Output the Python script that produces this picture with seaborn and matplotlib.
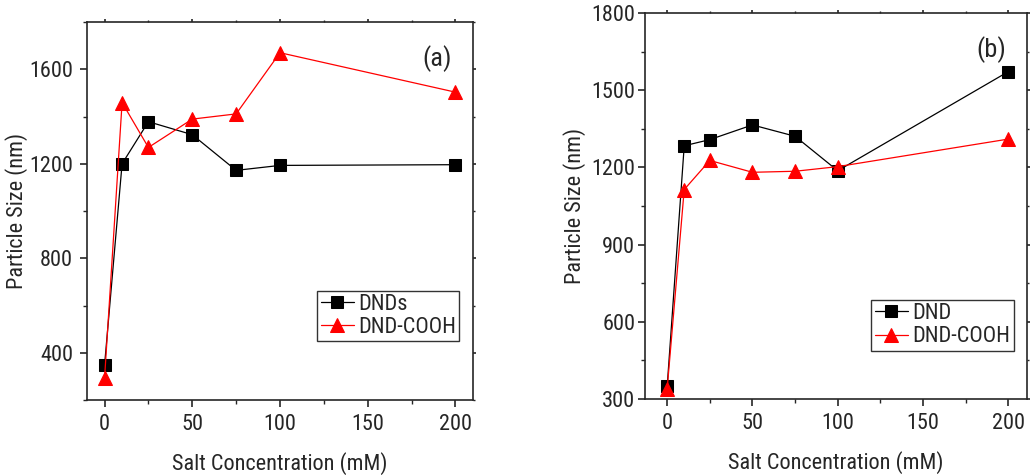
import matplotlib
matplotlib.use("Agg")
import matplotlib.pyplot as plt
import seaborn as sns
import pandas as pd
from matplotlib.ticker import MultipleLocator

# ---- data ----
conc = [0, 10, 25, 50, 75, 100, 200]
a_dnd = [347, 1200, 1378, 1323, 1172, 1193, 1196]
a_cooh = [292, 1459, 1269, 1389, 1411, 1670, 1503]
b_dnd = [349, 1284, 1308, 1365, 1321, 1187, 1572]
b_cooh = [340, 1114, 1227, 1181, 1185, 1203, 1310]
a_labels = ["DNDs", "DND-COOH"]
b_labels = ["DND", "DND-COOH"]
panel_tags = ["(a)", "(b)"]
xlabel = "Salt Concentration (mM)"
ylabel = "Particle Size (nm)"

sns.set_style("ticks")
plt.rcParams['font.family'] = ['Roboto Condensed', 'Archivo Narrow', 'Liberation Sans', 'DejaVu Sans']
plt.rcParams['axes.linewidth'] = 1.2

fig = plt.figure(figsize=(10.3, 4.75), dpi=100)
ax1 = fig.add_axes([87/1030, 75/475, 386/1030, 378/475])
ax2 = fig.add_axes([645/1030, 76/475, 382/1030, 386/475])

def draw(ax, y1, y2, labels, tag, ylim, xlim, ymajor, yminor, legend_anchor, ylab_x, ypad):
    d1 = pd.DataFrame({"x": conc, "y": y1})
    d2 = pd.DataFrame({"x": conc, "y": y2})
    sns.lineplot(data=d1, x="x", y="y", ax=ax, color="black", marker="s",
                 markersize=8, markeredgecolor="black", linewidth=0.9, label=labels[0])
    sns.lineplot(data=d2, x="x", y="y", ax=ax, color="red", marker="^",
                 markersize=10, markeredgecolor="red", linewidth=0.9, label=labels[1])
    ax.set_xlim(*xlim)
    ax.set_ylim(*ylim)
    ax.xaxis.set_major_locator(MultipleLocator(50))
    ax.xaxis.set_minor_locator(MultipleLocator(25))
    ax.yaxis.set_major_locator(MultipleLocator(ymajor))
    ax.yaxis.set_minor_locator(MultipleLocator(yminor))
    ax.tick_params(axis="both", which="major", direction="out", length=5, width=1.2,
                   labelsize=16, pad=5)
    ax.tick_params(axis="y", which="major", pad=ypad)
    ax.tick_params(axis="both", which="minor", direction="out", length=3, width=1.0)
    ax.tick_params(axis="x", which="both", top=True, labeltop=False)
    ax.tick_params(axis="y", which="both", right=True, labelright=False)
    for t in ax.xaxis.get_major_ticks() + ax.yaxis.get_major_ticks():
        t.tick2line.set_markersize(2)
    for t in ax.xaxis.get_minor_ticks() + ax.yaxis.get_minor_ticks():
        t.tick2line.set_markersize(1.5)
    ax.set_xlabel(xlabel, fontsize=16, labelpad=12)
    ax.set_ylabel(ylabel, fontsize=16)
    ax.yaxis.set_label_coords(ylab_x, 0.5)
    ax.text(0.945, 0.94, tag, transform=ax.transAxes, fontsize=19,
            ha="right", va="top")
    leg = ax.legend(loc="lower right", bbox_to_anchor=legend_anchor, fontsize=16,
                    frameon=True, fancybox=False, edgecolor="black",
                    handlelength=1.5, handletextpad=0.2, borderpad=0.15,
                    labelspacing=0.1, borderaxespad=0.0)
    leg.get_frame().set_linewidth(1.0)

draw(ax1, a_dnd, a_cooh, a_labels, panel_tags[0], (200, 1800), (-10, 210),
     400, 200, (0.965, 0.155), -0.153, 5)
draw(ax2, b_dnd, b_cooh, b_labels, panel_tags[1], (300, 1800), (-13, 211),
     300, 150, (0.965, 0.125), -0.155, 2)

fig.savefig("out.png", dpi=100)
